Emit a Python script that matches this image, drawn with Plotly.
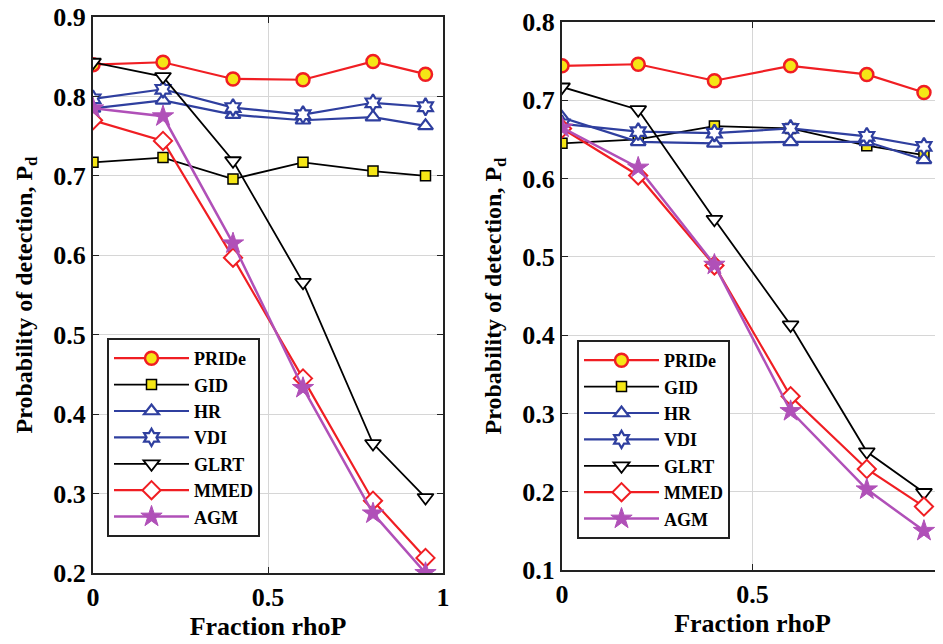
import plotly.graph_objects as go

x = [0, 0.2, 0.4, 0.6, 0.8, 0.95]
methods = ["PRIDe", "GID", "HR", "VDI", "GLRT", "MMED", "AGM"]

left = {
    "PRIDe": [0.840, 0.843, 0.822, 0.821, 0.844, 0.828],
    "GID":   [0.717, 0.723, 0.696, 0.717, 0.706, 0.700],
    "HR":    [0.785, 0.795, 0.777, 0.770, 0.774, 0.763],
    "VDI":   [0.797, 0.809, 0.786, 0.777, 0.792, 0.787],
    "GLRT":  [0.843, 0.825, 0.719, 0.566, 0.363, 0.295],
    "MMED":  [0.770, 0.744, 0.597, 0.445, 0.291, 0.219],
    "AGM":   [0.785, 0.775, 0.615, 0.433, 0.275, 0.200],
}
right = {
    "PRIDe": [0.744, 0.746, 0.725, 0.744, 0.733, 0.710],
    "GID":   [0.645, 0.650, 0.667, 0.664, 0.642, 0.630],
    "HR":    [0.678, 0.647, 0.645, 0.647, 0.647, 0.624],
    "VDI":   [0.670, 0.660, 0.658, 0.664, 0.654, 0.641],
    "GLRT":  [0.717, 0.688, 0.548, 0.413, 0.251, 0.199],
    "MMED":  [0.664, 0.604, 0.489, 0.322, 0.229, 0.181],
    "AGM":   [0.665, 0.614, 0.490, 0.303, 0.203, 0.150],
}

RED = "#f01e23"
BLUE = "#2f3f9f"
PURPLE = "#b050b8"
YEL = "#f5e616"
styles = {
    "PRIDe": dict(line=dict(color=RED, width=2.2), marker=dict(symbol="circle", size=13, color=YEL, line=dict(color=RED, width=2.5))),
    "GID":   dict(line=dict(color="black", width=1.8), marker=dict(symbol="square", size=10, color=YEL, line=dict(color="black", width=1.5))),
    "HR":    dict(line=dict(color=BLUE, width=2.2), marker=dict(symbol="triangle-up", size=13, color="white", line=dict(color=BLUE, width=2.2))),
    "VDI":   dict(line=dict(color=BLUE, width=2.2), marker=dict(symbol="hexagram", size=13, color="white", line=dict(color=BLUE, width=2.2))),
    "GLRT":  dict(line=dict(color="black", width=1.8), marker=dict(symbol="triangle-down", size=14, color="white", line=dict(color="black", width=1.8))),
    "MMED":  dict(line=dict(color=RED, width=2.2), marker=dict(symbol="diamond", size=14, color="white", line=dict(color=RED, width=2))),
    "AGM":   dict(line=dict(color=PURPLE, width=2.5), marker=dict(symbol="star", size=16, color=PURPLE, line=dict(color=PURPLE, width=1))),
}

fig = go.Figure()
for m in methods:
    fig.add_trace(go.Scatter(x=x, y=left[m], name=m, mode="lines+markers",
                             xaxis="x", yaxis="y", legend="legend", **styles[m]))
for m in methods:
    fig.add_trace(go.Scatter(x=x, y=right[m], name=m, mode="lines+markers",
                             xaxis="x2", yaxis="y2", legend="legend2", **styles[m]))

FONT = "Liberation Serif"
tickfont = dict(family=FONT, size=26, color="black", weight="bold")
xtitlefont = dict(family=FONT, size=26, color="black", weight="bold")
ytitlefont = dict(family=FONT, size=24, color="black", weight="bold")

W, H = 935, 636  # page has an 8 px body margin

def xax(domain, anchor):
    return dict(domain=domain, anchor=anchor, range=[0, 1], dtick=0.5, tick0=0,
                showgrid=True, gridcolor="#d6d6d6", gridwidth=1,
                showline=True, linecolor="#222", linewidth=2, mirror="ticks",
                ticks="inside", ticklen=6, tickcolor="#222", tickfont=tickfont,
                zeroline=False, automargin=False, ticklabeloverflow="allow",
                title=dict(text="Fraction rhoP", font=xtitlefont, standoff=4))

def yax(domain, anchor, rng):
    return dict(domain=domain, anchor=anchor, range=rng, dtick=0.1, tick0=0,
                showgrid=True, gridcolor="#d6d6d6", gridwidth=1,
                showline=True, linecolor="#222", linewidth=2, mirror="ticks",
                ticks="inside", ticklen=6, tickcolor="#222", tickfont=tickfont,
                zeroline=False, tickformat=".1f", automargin=False,
                ticklabeloverflow="allow",
                title=dict(text="Probability of detection, P<sub>d</sub>", font=ytitlefont, standoff=14))

legstyle = dict(bgcolor="white", bordercolor="#222", borderwidth=2,
                font=dict(family=FONT, size=18, color="black", weight="bold"),
                xanchor="left", yanchor="top", tracegroupgap=0, itemwidth=75)

fig.update_layout(
    width=W, height=H,
    margin=dict(l=0, r=0, t=0, b=0),
    paper_bgcolor="white", plot_bgcolor="white",
    xaxis=xax([85/W, 435/W], "y"),
    yaxis=yax([1-565/H, 1-9/H], "x", [0.2, 0.9]),
    xaxis2=xax([554/W, 1.0], "y2"),
    yaxis2=yax([1-562/H, 1-14/H], "x2", [0.1, 0.8]),
    legend=dict(x=99/W, y=1-330/H, **legstyle),
    legend2=dict(x=569/W, y=1-332/H, **legstyle),
)

fig.write_html("out.html")
